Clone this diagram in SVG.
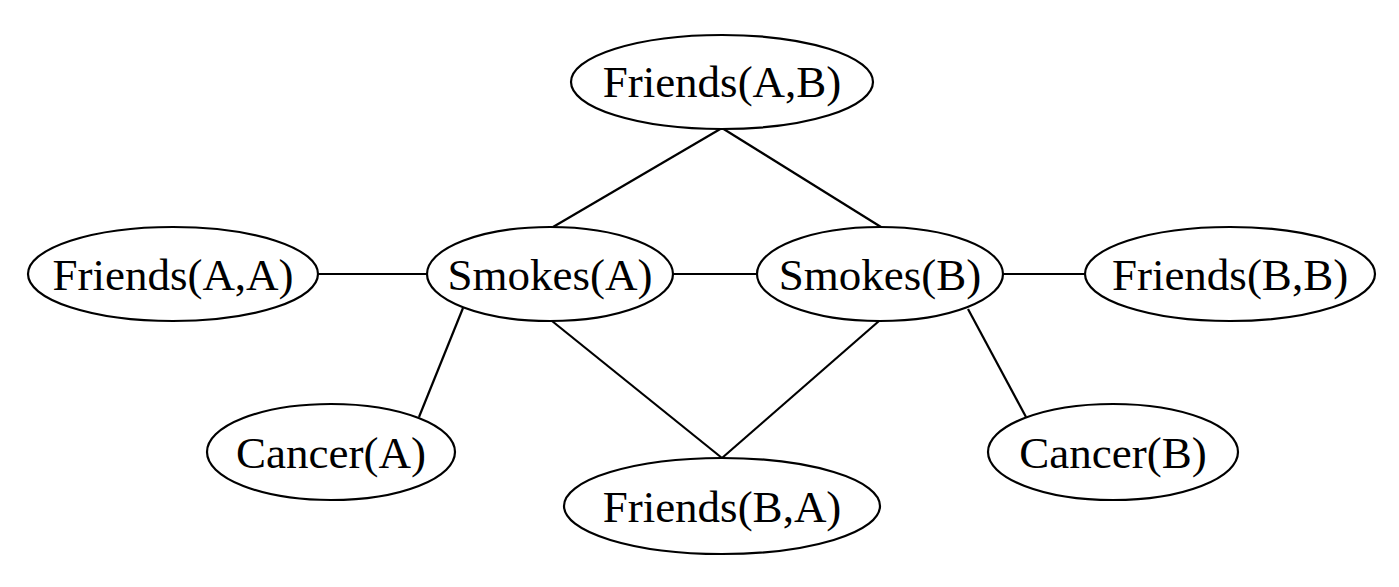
<svg xmlns="http://www.w3.org/2000/svg" width="1399" height="587" viewBox="0 0 1399 587">
<style>
.n ellipse{fill:#fff;stroke:#000;stroke-width:2.2}
.n text{font-family:"Liberation Serif","Times New Roman",serif;font-size:45px;fill:#000;text-anchor:middle}
#edges line{stroke:#000;stroke-width:2.2}
</style>
<rect width="1399" height="587" fill="#fff"/>
<g id="edges">
<line x1="722" y1="128" x2="553" y2="227"/>
<line x1="722" y1="128" x2="881" y2="227"/>
<line x1="318" y1="274" x2="427" y2="274"/>
<line x1="672" y1="274" x2="757" y2="274"/>
<line x1="1003" y1="274" x2="1085" y2="274"/>
<line x1="463" y1="308" x2="419" y2="417"/>
<line x1="552" y1="321" x2="722" y2="458"/>
<line x1="879" y1="321" x2="722" y2="458"/>
<line x1="968" y1="309" x2="1026" y2="417"/>
</g>
<g id="friendsAB" class="n"><ellipse cx="722" cy="82" rx="151" ry="47"/><text x="722" y="97">Friends(A,B)</text></g>
<g id="friendsAA" class="n"><ellipse cx="173" cy="274" rx="145" ry="47"/><text x="173" y="290">Friends(A,A)</text></g>
<g id="smokesA" class="n"><ellipse cx="550" cy="274" rx="123" ry="47"/><text x="550" y="290">Smokes(A)</text></g>
<g id="smokesB" class="n"><ellipse cx="880" cy="274" rx="123" ry="47"/><text x="880" y="290">Smokes(B)</text></g>
<g id="friendsBB" class="n"><ellipse cx="1230" cy="274" rx="145" ry="47"/><text x="1230" y="290">Friends(B,B)</text></g>
<g id="cancerA" class="n"><ellipse cx="331" cy="452" rx="124" ry="48"/><text x="331" y="468">Cancer(A)</text></g>
<g id="friendsBA" class="n"><ellipse cx="722" cy="506" rx="158" ry="48"/><text x="722" y="522">Friends(B,A)</text></g>
<g id="cancerB" class="n"><ellipse cx="1113" cy="452" rx="125" ry="48"/><text x="1113" y="468">Cancer(B)</text></g>
</svg>
